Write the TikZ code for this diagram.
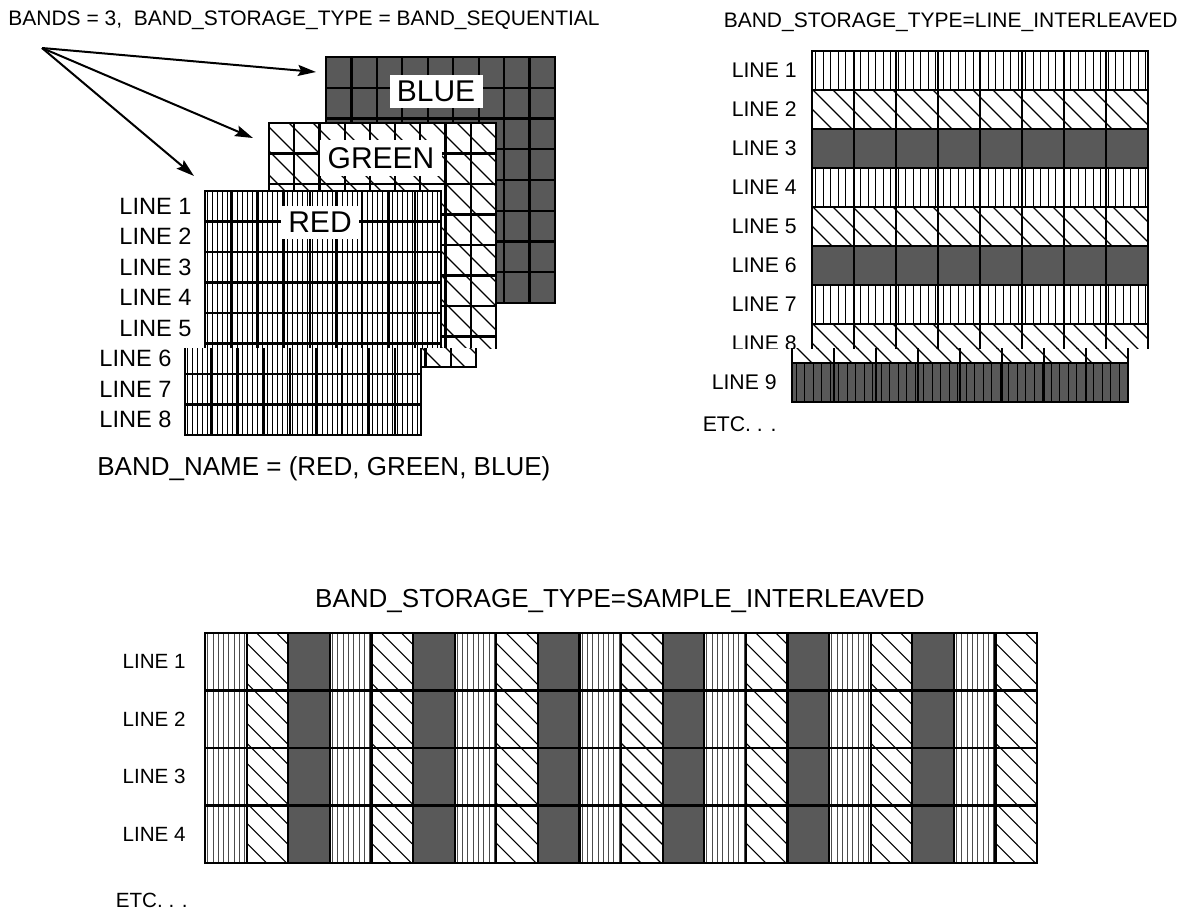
\documentclass[tikz,border=0pt]{standalone}
\usepackage{fontspec}
\setmainfont{Liberation Sans}
\usetikzlibrary{arrows.meta}
\definecolor{bandgray}{gray}{0.35}
\tikzset{
  gridln/.style={line width=1.1pt, draw=black},
  hatchln/.style={line width=0.55pt, draw=black},
  finehatch/.style={line width=0.45pt, draw=black!70},
  bandlbl/.style={fill=white, inner sep=0pt, font=\fontsize{15}{15}\selectfont},
  leftlbl/.style={anchor=east, inner sep=0pt, font=\fontsize{11.8}{12}\selectfont},
  rightlbl/.style={anchor=east, inner sep=0pt, font=\fontsize{10.6}{11}\selectfont},
  botlbl/.style={anchor=east, inner sep=0pt, font=\fontsize{10.3}{11}\selectfont},
  ttl/.style={inner sep=0pt, font=\fontsize{10.5}{11}\selectfont},
  bigttl/.style={inner sep=0pt, font=\fontsize{13}{14}\selectfont},
  ptr/.style={line width=1pt, -{Stealth[length=9pt,width=5.5pt,inset=1.5pt]}},
}

\newcommand\hatchV[6]{%
  \begin{scope}
    \clip (#1,#2) rectangle (#3,#4);
    \pgfmathtruncatemacro\hvn{ceil((#3-#1)/#5)}%
    \foreach \hk in {0,...,\hvn}{%
      \draw[#6] ({#1+(\hk+0.5)*#5},#2) -- ({#1+(\hk+0.5)*#5},#4);
    }%
  \end{scope}}

\newcommand\hatchD[6]{%
  \begin{scope}
    \clip (#1,#2) rectangle (#3,#4);
    \pgfmathtruncatemacro\hdn{ceil((#3-#1+#4-#2)/#5)+1}%
    \foreach \dk in {0,...,\hdn}{%
      \draw[#6] ({#1-(#4-#2)+\dk*#5},#2) -- ++({#4-#2},{#4-#2});
    }%
  \end{scope}}

\newcommand\drawstack{%
  % BLUE band
  \fill[bandgray] (326,57) rectangle (555,303);
  \foreach \i in {1,...,8} \draw[gridln] ({326+\i*229/9},57) -- ({326+\i*229/9},303);
  \foreach \j in {1,...,7} \draw[gridln] (326,{57+\j*30.75}) -- (555,{57+\j*30.75});
  \draw[gridln] (326,57) rectangle (555,303);
  % GREEN band
  \fill[white] (269,123) rectangle (496,367);
  \hatchD{269}{123}{496}{367}{24}{hatchln}
  \foreach \i in {1,...,8} \draw[gridln] ({269+\i*227/9},123) -- ({269+\i*227/9},367);
  \foreach \j in {1,...,7} \draw[gridln] (269,{123+\j*30.5}) -- (496,{123+\j*30.5});
  \draw[gridln] (269,123) rectangle (496,367);
  % RED band
  \fill[white] (205,191) rectangle (441,435);
  \hatchV{205}{191}{441}{435}{5}{hatchln}
  \foreach \i in {1,...,8} \draw[gridln] ({205+\i*236/9},191) -- ({205+\i*236/9},435);
  \foreach \j in {1,...,7} \draw[gridln] (205,{191+\j*30.5}) -- (441,{191+\j*30.5});
  \draw[gridln] (205,191) rectangle (441,435);
}

\newcommand\drawright{%
  \foreach \k in {1,...,9}{%
    \pgfmathsetmacro\yt{51+39*(\k-1)}%
    \pgfmathsetmacro\yb{51+39*\k}%
    \pgfmathtruncatemacro\ty{mod(\k-1,3)}%
    \ifcase\ty
      \hatchV{812}{\yt}{1148}{\yb}{7.5}{hatchln}
    \or
      \hatchD{812}{\yt}{1148}{\yb}{20}{hatchln}
    \or
      \fill[bandgray] (812,\yt) rectangle (1148,\yb);
    \fi
  }
  \hatchV{812}{363}{1148}{402}{8.5}{hatchln}
  \foreach \i in {1,...,7} \draw[gridln] ({812+42*\i},51) -- ({812+42*\i},402);
  \foreach \j in {1,...,8} \draw[gridln] (812,{51+39*\j}) -- (1148,{51+39*\j});
  \draw[gridln] (812,51) rectangle (1148,402);
}

\begin{document}
\begin{tikzpicture}[x=0.5pt,y=-0.5pt]
  \useasboundingbox (0,0) rectangle (1185,911);
  \fill[white] (0,0) rectangle (1185,911);

  % ---------- BAND_SEQUENTIAL ----------
  \node[ttl, anchor=base west] (ttlSeq) at (8,25) {BANDS = 3,\ \ BAND\_STORAGE\_TYPE = BAND\_SEQUENTIAL};
  \begin{scope}
    \clip (0,40) rectangle (700,348);
    \drawstack
  \end{scope}
  \begin{scope}[shift={(-20,0)}]
    \clip (0,348) rectangle (720,445);
    \drawstack
  \end{scope}
  \node[bandlbl, minimum width=46.5pt, minimum height=16.5pt] (lblBlue) at (436,91) {BLUE};
  \node[bandlbl, minimum width=61pt, minimum height=18pt] (lblGreen) at (381,158) {GREEN};
  \node[bandlbl, minimum width=39pt, minimum height=16.5pt] (lblRed) at (320,222) {RED};
  \foreach \k in {1,...,5} \node[leftlbl] (lL\k) at (192,{191+30.5*(\k-1)+15.25}) {LINE \k};
  \foreach \k in {6,...,8} \node[leftlbl] (lL\k) at (172,{191+30.5*(\k-1)+15.25}) {LINE \k};
  \coordinate (src) at (42,48);
  \coordinate (tipBlue) at (316,72);
  \coordinate (tipGreen) at (253,138);
  \coordinate (tipRed) at (194,176);
  \draw[ptr] (src) -- (tipBlue);
  \draw[ptr] (src) -- (tipGreen);
  \draw[ptr] (src) -- (tipRed);
  \node[bigttl, anchor=base west] (bandName) at (97,475) {BAND\_NAME = (RED, GREEN, BLUE)};

  % ---------- LINE_INTERLEAVED ----------
  \node[ttl, anchor=base east] (ttlLine) at (1178,27) {BAND\_STORAGE\_TYPE=LINE\_INTERLEAVED};
  \begin{scope}
    \clip (690,40) rectangle (1185,348);
    \drawright
    \node[rightlbl] (rL8) at (797,{51+39*7+19.5}) {LINE 8};
  \end{scope}
  \begin{scope}[shift={(-20,0)}]
    \clip (690,348) rectangle (1205,445);
    \drawright
  \end{scope}
  \foreach \k in {1,...,7} \node[rightlbl] (rL\k) at (797,{51+39*(\k-1)+19.5}) {LINE \k};
  \node[rightlbl] (rL9) at (777,{51+39*8+19.5}) {LINE 9};
  \node[rightlbl] (etcR) at (777,424) {ETC. . .};

  % ---------- SAMPLE_INTERLEAVED ----------
  \node[bigttl, anchor=base] (ttlSample) at (620,607) {BAND\_STORAGE\_TYPE=SAMPLE\_INTERLEAVED};
  \foreach \cc in {0,...,19}{%
    \pgfmathsetmacro\xa{205+41.6*\cc}%
    \pgfmathsetmacro\xb{205+41.6*(\cc+1)}%
    \pgfmathtruncatemacro\ty{mod(\cc,3)}%
    \ifcase\ty
      \hatchV{\xa}{633}{\xb}{863}{5.3}{finehatch}
    \or
      \hatchD{\xa}{633}{\xb}{863}{20}{hatchln}
    \or
      \fill[bandgray] (\xa,633) rectangle (\xb,863);
    \fi
  }
  \foreach \cc in {1,...,19} \draw[gridln] ({205+41.6*\cc},633) -- ({205+41.6*\cc},863);
  \foreach \j in {1,...,3} \draw[gridln] (205,{633+57.5*\j}) -- (1037,{633+57.5*\j});
  \draw[gridln] (205,633) rectangle (1037,863);
  \foreach \k in {1,...,4} \node[botlbl] (bL\k) at (186,{633+57.5*(\k-1)+28.75}) {LINE \k};
  \node[botlbl] (etcB) at (188,900) {ETC. . .};
\end{tikzpicture}
\end{document}
